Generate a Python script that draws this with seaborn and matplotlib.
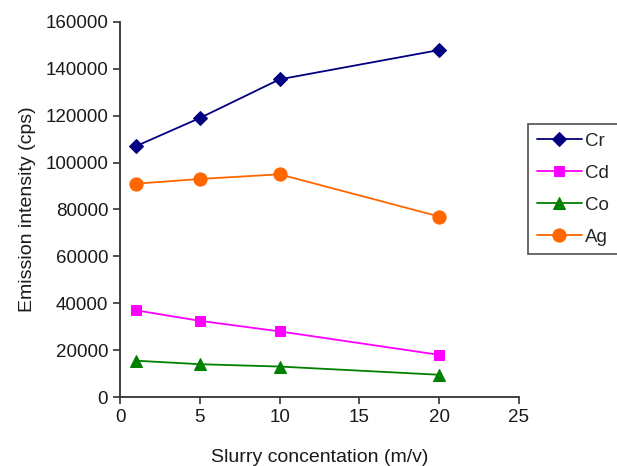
import matplotlib
matplotlib.use("Agg")
import matplotlib.pyplot as plt
import numpy as np
import pandas as pd
import seaborn as sns

# slurry concentration (m/v) and emission intensity (cps)
conc = [1, 5, 10, 20]
cr = [107000, 119000, 135500, 148000]
cd = [37000, 32500, 28000, 18000]
co = [15500, 14000, 13000, 9500]
ag = [91000, 93000, 95000, 77000]
elements = ["Cr", "Cd", "Co", "Ag"]

colors = {"Cr": "#000080", "Cd": "#ff00ff", "Co": "#008000", "Ag": "#ff6600"}
markers = {"Cr": "D", "Cd": "s", "Co": "^", "Ag": "o"}
msizes = {"Cr": 7, "Cd": 7.5, "Co": 8, "Ag": 9.5}

df = pd.DataFrame({
    "conc": conc * 4,
    "intensity": cr + cd + co + ag,
    "element": sum([[e] * len(conc) for e in elements], []),
})

sns.set_style("ticks")
plt.rcParams["font.family"] = ["Liberation Sans", "DejaVu Sans"]

fig = plt.figure(figsize=(6.17, 4.66), dpi=100)
ax = fig.add_axes([0.1945, 0.148, 0.6465, 0.805])

for e in elements:
    sns.lineplot(data=df[df.element == e], x="conc", y="intensity", ax=ax,
                 color=colors[e], marker=markers[e], markersize=msizes[e],
                 markeredgecolor=colors[e], linewidth=1.3, label=e)

ax.set_xlim(0, 25)
ax.set_ylim(0, 160000)
ax.set_xticks(np.arange(0, 26, 5))
ax.set_yticks(np.arange(0, 160001, 20000))
ax.tick_params(labelsize=13.5, length=5, width=1.2, color="#333333",
               labelcolor="#1a1a1a", direction="out")
for s in ["left", "bottom"]:
    ax.spines[s].set_color("#333333")
    ax.spines[s].set_linewidth(1.3)
sns.despine(ax=ax)

ax.set_xlabel("Slurry concentation (m/v)", fontsize=14, labelpad=17, color="#1a1a1a")
ax.set_ylabel("Emission intensity (cps)", fontsize=14, labelpad=7, color="#1a1a1a")

leg = ax.legend(loc="upper left", bbox_to_anchor=(0.856, 0.734),
                bbox_transform=fig.transFigure, fontsize=13.5,
                frameon=True, fancybox=False, edgecolor="#222222",
                borderaxespad=0, handlelength=2.4, labelspacing=0.8,
                borderpad=0.45, handletextpad=0.2)
leg.get_frame().set_linewidth(1.2)

fig.savefig("out.png", dpi=100)
